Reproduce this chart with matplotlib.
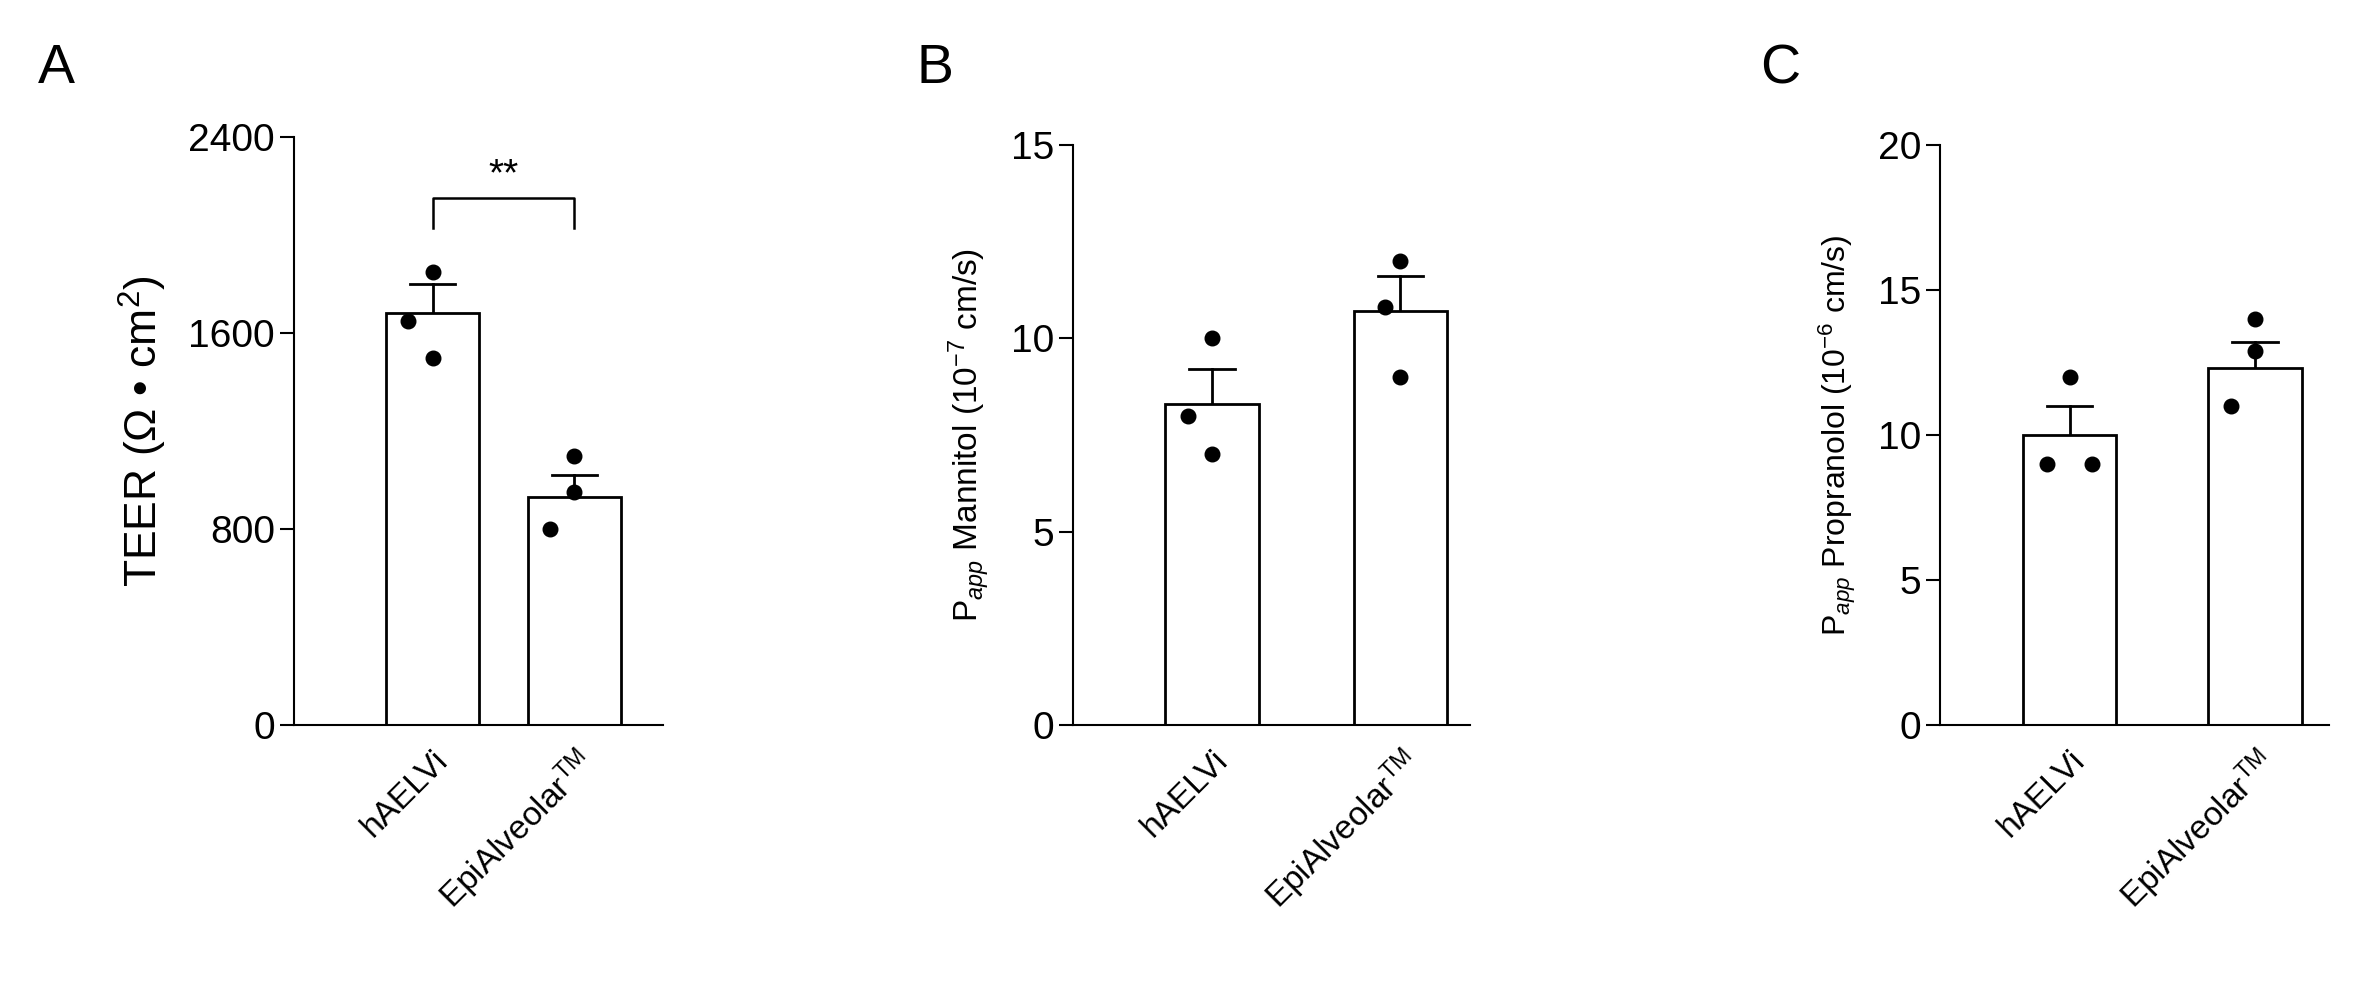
import matplotlib
matplotlib.use("Agg")
import matplotlib.pyplot as plt

plt.rcParams['font.family'] = ['Liberation Sans', 'DejaVu Sans']
plt.rcParams['mathtext.fontset'] = 'custom'
plt.rcParams['mathtext.rm'] = 'Liberation Sans'
plt.rcParams['mathtext.it'] = 'Liberation Sans:italic'

groups = ['hAELVi', r'EpiAlveolar$^{\mathrm{TM}}$']
teer_mean = [1680, 930]; teer_sem = [120, 90]
teer_pts = [[1850, 1650, 1500], [1100, 950, 800]]
man_mean = [8.3, 10.7]; man_sem = [0.9, 0.9]
man_pts = [[10, 8, 7], [12, 10.8, 9]]
pro_mean = [10.0, 12.3]; pro_sem = [1.0, 0.9]
pro_pts = [[12, 9, 9], [14, 12.9, 11]]

fig = plt.figure(figsize=(23.62, 9.86), dpi=100)
specs = [
    dict(rect=[0.1244, 0.2645, 0.1564, 0.5965], xlim=245, pos=[92, 186], ymax=2400, ticks=[0, 800, 1600, 2400],
         mean=teer_mean, sem=teer_sem, pts=teer_pts, ylabel=r'TEER ($\Omega$ • cm$^2$)', ylfs=32, letter='A', lx=0.016, ly=0.93),
    dict(rect=[0.4544, 0.2645, 0.1678, 0.5887], xlim=263, pos=[92, 217], ymax=15, ticks=[0, 5, 10, 15],
         mean=man_mean, sem=man_sem, pts=man_pts, ylabel=r'P$_{app}$ Mannitol (10$^{-7}$ cm/s)', ylfs=24, letter='B', lx=0.388, ly=0.93),
    dict(rect=[0.8213, 0.2645, 0.1647, 0.5887], xlim=258, pos=[86, 209], ymax=20, ticks=[0, 5, 10, 15, 20],
         mean=pro_mean, sem=pro_sem, pts=pro_pts, ylabel=r'P$_{app}$ Propranolol (10$^{-6}$ cm/s)', ylfs=23, letter='C', lx=0.745, ly=0.93),
]
for s in specs:
    ax = fig.add_axes(s['rect'])
    ax.bar(s['pos'], s['mean'], width=62, color='white', edgecolor='black', linewidth=2, zorder=2)
    for i, p in enumerate(s['pos']):
        m, e = s['mean'][i], s['sem'][i]
        ax.plot([p, p], [m, m + e], color='black', lw=2, zorder=1)
        ax.plot([p - 15, p + 15], [m + e, m + e], color='black', lw=2, zorder=1)
        pts = s['pts'][i]
        xs = [p, p - 16, p] if i == 0 else [p, p, p - 16]
        if s['letter'] == 'C' and i == 0:
            xs = [p, p - 15, p + 15]
        if s['letter'] == 'B' and i == 1:
            xs = [p, p - 10, p]
        ax.scatter(xs, pts, s=110, color='black', zorder=3)
    ax.set_xlim(0, s['xlim'])
    ax.set_ylim(0, s['ymax'])
    ax.set_yticks(s['ticks'])
    ax.set_xticks(s['pos'])
    ax.set_xticklabels(groups, rotation=45, ha='right', rotation_mode='anchor')
    for sp in ['top', 'right']:
        ax.spines[sp].set_visible(False)
    for sp in ['left', 'bottom']:
        ax.spines[sp].set_linewidth(1.5)
    ax.tick_params(axis='y', length=10, width=1.5, labelsize=28)
    ax.tick_params(axis='x', length=0, labelsize=24, pad=14)
    ax.set_ylabel(s['ylabel'], fontsize=s['ylfs'], labelpad=14)
    fig.text(s['lx'], s['ly'], s['letter'], fontsize=40, ha='left', va='center')
    if s['letter'] == 'A':
        y0, y1 = 2030, 2150
        ax.plot([s['pos'][0], s['pos'][0], s['pos'][1], s['pos'][1]], [y0, y1, y1, y0], color='black', lw=1.8)
        ax.text(sum(s['pos']) / 2, y1 + 20, '**', ha='center', va='bottom', fontsize=28)

fig.savefig('out.png', dpi=100)
